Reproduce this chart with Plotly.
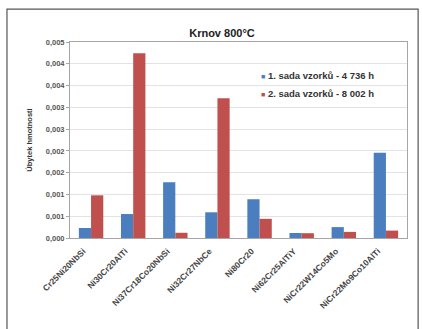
import plotly.graph_objects as go

categories = ["Cr25Ni20NbSi", "Ni30Cr20AlTi", "Ni37Cr18Co20NbSi", "Ni32Cr27NbCe",
              "Ni80Cr20", "Ni62Cr25AlTiY", "NiCr22W14Co5Mo", "NiCr22Mo9Co10AlTi"]
series1_name = "1. sada vzorků - 4 736 h"
series2_name = "2. sada vzorků - 8 002 h"
series1 = [0.00023, 0.00055, 0.00128, 0.00059, 0.00089, 0.000115, 0.00025, 0.00196]
series2 = [0.00098, 0.00424, 0.00012, 0.00321, 0.00044, 0.00011, 0.00014, 0.00017]
tick_vals = [0, 0.0005, 0.001, 0.0015, 0.002, 0.0025, 0.003, 0.0035, 0.004, 0.0045]
tick_text = ["0,000", "0,001", "0,001", "0,002", "0,002", "0,003", "0,003", "0,004", "0,004", "0,005"]

BLUE = "#4a7ebf"
RED = "#c0504d"
FONT = "Liberation Sans"

fig = go.Figure()
fig.add_trace(go.Bar(x=categories, y=series1, name=series1_name, marker_color=BLUE,
                     marker_line_width=0))
fig.add_trace(go.Bar(x=categories, y=series2, name=series2_name, marker_color=RED,
                     marker_line_width=0))

legend_items = [(series1_name, BLUE), (series2_name, RED)]
annotations = []
for i, (name, col) in enumerate(legend_items):
    annotations.append(dict(
        xref="paper", yref="paper", x=0.56, y=0.827 - i * 0.088,
        xanchor="left", yanchor="middle", showarrow=False,
        text=f'<span style="color:{col};font-size:7px">■</span> <b>{name}</b>',
        font=dict(size=9.5, color="#333333", family=FONT)))

fig.update_layout(
    width=422, height=329,
    margin=dict(l=70, r=15, t=42, b=91),
    paper_bgcolor="white", plot_bgcolor="white",
    barmode="group", bargap=0.42, bargroupgap=0.0,
    showlegend=False,
    font=dict(family=FONT, color="#404040"),
    title=dict(text="<b>Krnov 800°C</b>", x=0.526, xanchor="center", y=0.9, yanchor="middle",
               font=dict(size=11, color="#222222", family=FONT)),
    xaxis=dict(tickangle=-45, tickvals=categories,
               ticktext=[f"<b>{c}</b>" for c in categories],
               tickfont=dict(size=8.5, color="#444444", family=FONT),
               ticklabelshift=-8, ticklabelstandoff=4,
               showline=True, linecolor="#a6a6a6", linewidth=1, mirror=True,
               ticks="", showgrid=False),
    yaxis=dict(range=[0, 0.0045], tickvals=tick_vals,
               ticktext=[f"<b>{t}</b>" for t in tick_text],
               tickfont=dict(size=7.5, color="#555555", family=FONT),
               showline=True, linecolor="#a6a6a6", linewidth=1, mirror=True,
               ticks="outside", ticklen=3, tickcolor="#a6a6a6",
               showgrid=True, gridcolor="#e3e3e3", gridwidth=1, zeroline=False,
               title=dict(text="<b>Úbytek hmotnosti</b>", font=dict(size=7.5, color="#333333"),
                          standoff=12)),
    annotations=annotations,
    shapes=[dict(type="rect", xref="paper", yref="paper",
                 x0=-0.187, x1=1.033, y0=-0.52, y1=1.168,
                 line=dict(color="#555555", width=1.2), fillcolor="rgba(0,0,0,0)", layer="below")],
)

fig.write_html("out.html", config={"displayModeBar": False},
               post_script="document.body.style.margin='0';")
